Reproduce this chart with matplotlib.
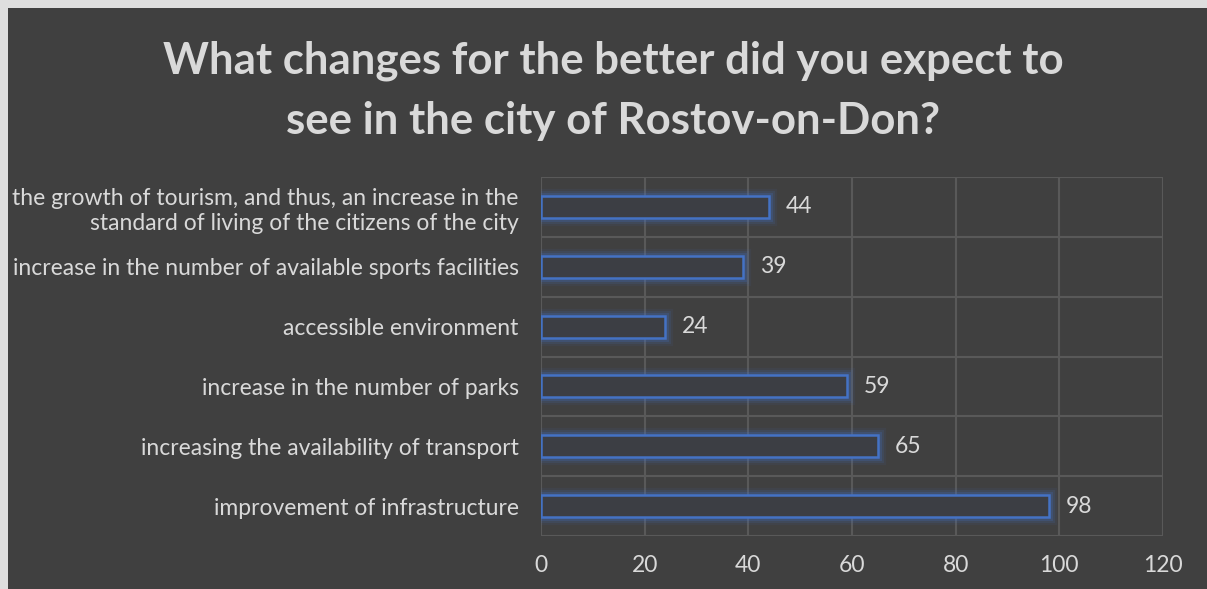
import matplotlib.pyplot as plt
from matplotlib.patches import Rectangle

categories = [
    "improvement of infrastructure",
    "increasing the availability of transport",
    "increase in the number of parks",
    "accessible environment",
    "increase in the number of available sports facilities",
    "the growth of tourism, and thus, an increase in the\nstandard of living of the citizens of the city",
]
values = [98, 65, 59, 24, 39, 44]
x_ticks = [0, 20, 40, 60, 80, 100, 120]

BG = "#404040"
TXT = "#d9d9d9"
GRID = "#595959"
BLUE = "#4472c4"

plt.rcParams["font.family"] = ["Lato", "DejaVu Sans"]

fig = plt.figure(figsize=(12.07, 5.89), dpi=100)
fig.patch.set_facecolor("white")
# dark chart area with a light frame at top and left
fig.patches.append(Rectangle((0, 0), 1, 1, transform=fig.transFigure,
                             facecolor="#dedede", edgecolor="none", zorder=-3))
fig.patches.append(Rectangle((8 / 1207, 0), 1, 1 - 8 / 589, transform=fig.transFigure,
                             facecolor=BG, edgecolor="none", zorder=-2))

ax = fig.add_axes([541 / 1207, 1 - 536 / 589, (1163 - 541) / 1207, (536 - 177) / 589])
ax.set_facecolor(BG)

y = list(range(len(categories)))
h = 0.37
# glow around the bars
for lw, a in [(11, 0.08), (8, 0.13), (5, 0.22)]:
    ax.barh(y, values, height=h, color="none", edgecolor=BLUE, linewidth=lw, alpha=a, zorder=3)
ax.barh(y, values, height=h, color="#3c3e44", edgecolor=BLUE, linewidth=1.8, zorder=4)

for yi, v in zip(y, values):
    ax.annotate(str(v), (v, yi), xytext=(12, 0), textcoords="offset points",
                va="center", ha="left", color=TXT, fontsize=16.5)

ax.set_xlim(0, 120)
ax.set_ylim(-0.5, len(categories) - 0.5)
ax.set_xticks(x_ticks)
ax.set_yticks(y)
ax.set_yticklabels(categories, linespacing=1.25)
ax.set_yticks([i - 0.5 for i in range(len(categories) + 1)], minor=True)
ax.tick_params(axis="x", colors=TXT, labelsize=16.5, length=0, pad=14)
ax.tick_params(axis="y", colors=TXT, labelsize=16.5, length=0, pad=16)
ax.tick_params(axis="y", which="minor", length=0)
ax.grid(axis="x", color=GRID, linewidth=1.5, zorder=0)
ax.grid(axis="y", which="minor", color=GRID, linewidth=1.5, zorder=0)
for s in ax.spines.values():
    s.set_visible(False)

fig.text(0.508, 1 - 91 / 589, "What changes for the better did you expect to\nsee in the city of Rostov-on-Don?",
         ha="center", va="center", color=TXT, fontsize=31.5, fontweight="bold", linespacing=1.62)

fig.savefig("out.png", dpi=100, facecolor=fig.get_facecolor())
